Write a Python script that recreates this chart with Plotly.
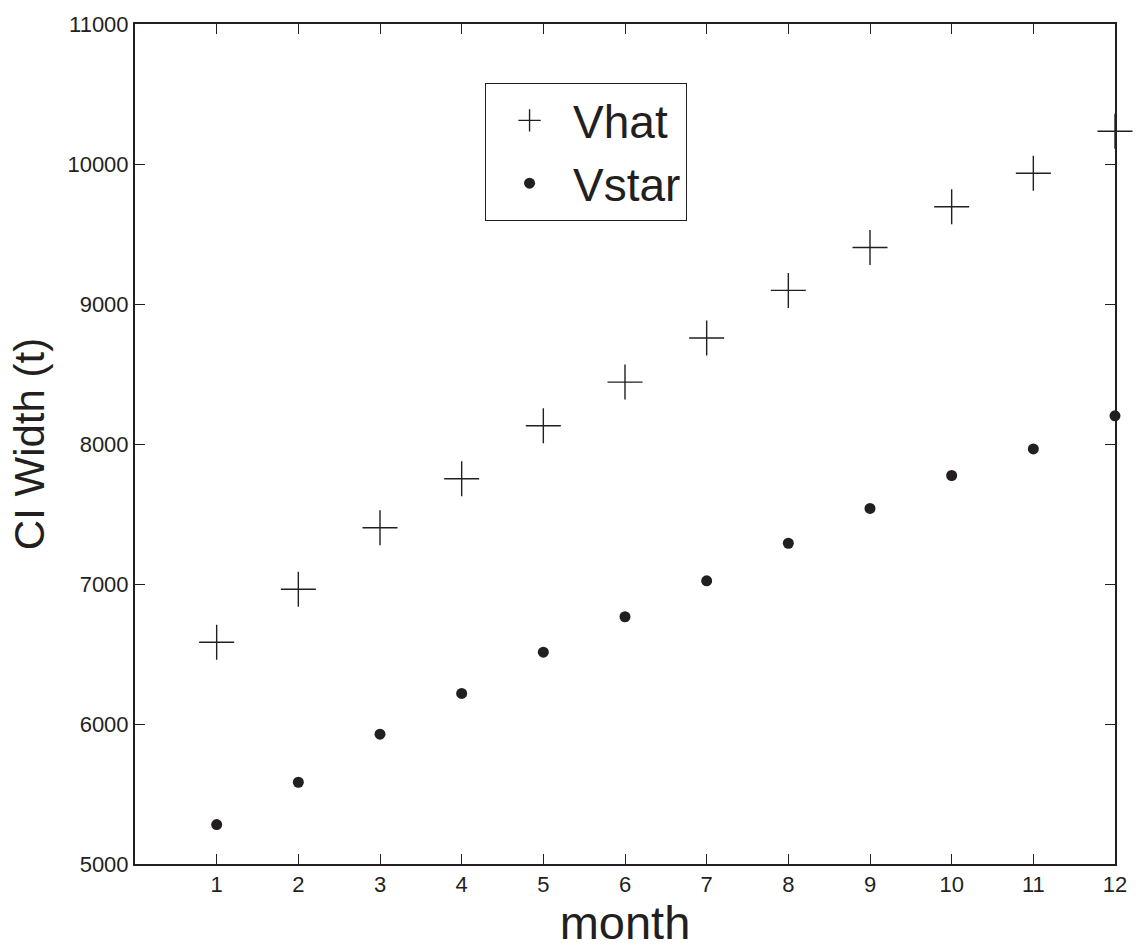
import plotly.graph_objects as go

months = list(range(1, 13))
vhat = [6584, 6962, 7402, 7752, 8130, 8442, 8757, 9097, 9404, 9695, 9934, 10234]
vstar = [5282, 5584, 5927, 6218, 6513, 6766, 7023, 7291, 7540, 7775, 7965, 8201]
x_ticks = list(range(1, 13))
y_ticks = [5000, 6000, 7000, 8000, 9000, 10000, 11000]

INK = "#231f20"
FONT = "Liberation Sans, Arial, Helvetica, sans-serif"

fig = go.Figure()
fig.add_trace(go.Scatter(
    x=months, y=vhat, mode="markers", name="Vhat",
    marker=dict(symbol="cross-thin", size=25, color=INK,
                line=dict(width=1.4, color=INK)),
    cliponaxis=False,
))
fig.add_trace(go.Scatter(
    x=months, y=vstar, mode="markers", name="Vstar",
    marker=dict(symbol="circle", size=11, color=INK),
    cliponaxis=False,
))

axis_common = dict(
    showline=True, linecolor=INK, linewidth=2, mirror="ticks",
    ticks="inside", ticklen=10, tickwidth=1, tickcolor=INK,
    showgrid=False, zeroline=False,
    tickfont=dict(family=FONT, size=22, color=INK),
)

fig.update_layout(
    width=1139, height=949,
    margin=dict(l=135, r=22, t=19, b=85),
    paper_bgcolor="white", plot_bgcolor="white",
    font=dict(family=FONT, color=INK),
    xaxis=dict(range=[0, 12], tickvals=x_ticks, ticktext=[str(v) for v in x_ticks],
               title=dict(text="month", font=dict(family=FONT, size=47, color=INK), standoff=6),
               **axis_common),
    yaxis=dict(range=[5000, 11000], tickvals=y_ticks, ticktext=[str(v) for v in y_ticks],
               title=dict(text="CI Width (t)", font=dict(family=FONT, size=42, color=INK), standoff=10),
               **axis_common),
    showlegend=True,
    legend=dict(
        x=0.357, y=0.93, xanchor="left", yanchor="top",
        bordercolor=INK, borderwidth=1.2, bgcolor="white",
        font=dict(family=FONT, size=46, color=INK),
        itemwidth=77,
    ),
)

fig.write_html("out.html")
